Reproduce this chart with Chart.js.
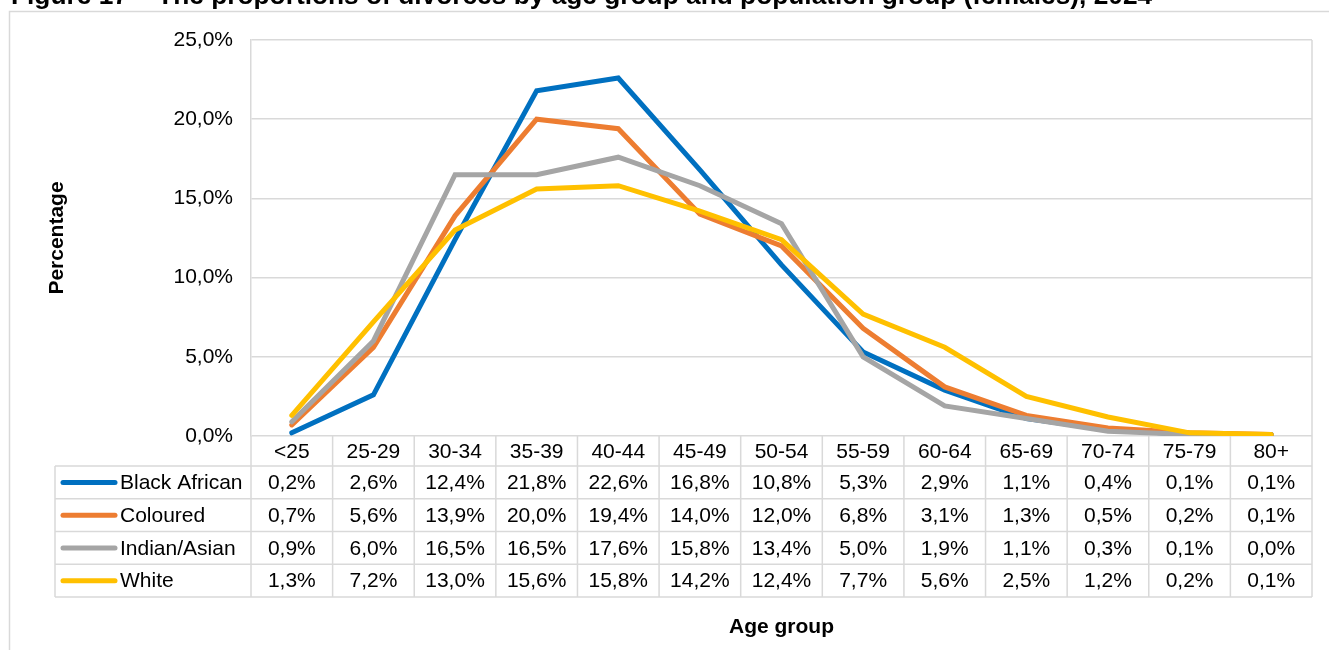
<!DOCTYPE html>
<html>
<head>
<meta charset="utf-8">
<script src="https://cdn.jsdelivr.net/npm/chart.js@4.4.1/dist/chart.umd.min.js"></script>
<style>
  html, body { margin: 0; padding: 0; background: #fff; overflow: hidden; }
  #wrap { position: relative; width: 1329px; height: 650px; }
</style>
</head>
<body>
<div id="wrap"><canvas id="c" width="1329" height="650"></canvas></div>
<script>
const titleText = "Figure 17    The proportions of divorces by age group and population group (females), 2024";
const categories = ["<25","25-29","30-34","35-39","40-44","45-49","50-54","55-59","60-64","65-69","70-74","75-79","80+"];
const seriesNames = ["Black African","Coloured","Indian/Asian","White"];
const blackAfrican = [0.2,2.6,12.4,21.8,22.6,16.8,10.8,5.3,2.9,1.1,0.4,0.1,0.1];
const coloured     = [0.7,5.6,13.9,20.0,19.4,14.0,12.0,6.8,3.1,1.3,0.5,0.2,0.1];
const indianAsian  = [0.9,6.0,16.5,16.5,17.6,15.8,13.4,5.0,1.9,1.1,0.3,0.1,0.0];
const white        = [1.3,7.2,13.0,15.6,15.8,14.2,12.4,7.7,5.6,2.5,1.2,0.2,0.1];
const seriesValues = [blackAfrican, coloured, indianAsian, white];
const seriesColors = ["#0070C0","#ED7D31","#A5A5A5","#FFC000"];
const yTitle = "Percentage";
const xTitle = "Age group";

const FONT = "'Liberation Sans', Arial, sans-serif";
const GRID = "#d9d9d9";
const fmt = v => v.toFixed(1).replace('.', ',') + '%';

const tablePlugin = {
  id: 'tablePlugin',
  beforeDraw(chart) {
    const ctx = chart.ctx;
    ctx.save();
    ctx.strokeStyle = GRID;
    ctx.lineWidth = 1.5;
    ctx.beginPath();
    ctx.moveTo(9.5, 650);
    ctx.lineTo(9.5, 11.5);
    ctx.lineTo(1329, 11.5);
    ctx.stroke();
    // title (partially cut at top)
    ctx.fillStyle = '#000';
    ctx.font = "bold 26.3px " + FONT;
    ctx.textAlign = 'left';
    ctx.textBaseline = 'alphabetic';
    ctx.fillText(titleText, 11, 4);
    ctx.restore();
  },
  afterDraw(chart) {
    const ctx = chart.ctx;
    const area = chart.chartArea;
    const x = chart.scales.x;
    const n = categories.length;
    const colW = (area.right - area.left) / n;
    const headerBottom = area.bottom + 30;
    const tableBottom = 597;
    const rowH = (tableBottom - headerBottom) / seriesNames.length;
    const legLeft = 55;
    ctx.save();
    ctx.strokeStyle = GRID;
    ctx.lineWidth = 1.5;
    ctx.beginPath();
    // right border of plot
    ctx.moveTo(area.right, area.top);
    ctx.lineTo(area.right, area.bottom);
    // column lines
    for (let k = 0; k <= n; k++) {
      const xx = area.left + k * colW;
      ctx.moveTo(xx, area.bottom);
      ctx.lineTo(xx, tableBottom);
    }
    // legend column left
    ctx.moveTo(legLeft, headerBottom);
    ctx.lineTo(legLeft, tableBottom);
    // row lines
    for (let r = 0; r <= seriesNames.length; r++) {
      const yy = headerBottom + r * rowH;
      ctx.moveTo(legLeft, yy);
      ctx.lineTo(area.right, yy);
    }
    ctx.stroke();

    ctx.fillStyle = '#000';
    ctx.font = "21px " + FONT;
    ctx.textAlign = 'center';
    ctx.textBaseline = 'middle';
    categories.forEach((c, i) => {
      ctx.fillText(c, x.getPixelForValue(i), (area.bottom + headerBottom) / 2 + 1);
    });
    seriesNames.forEach((name, r) => {
      const cy = headerBottom + r * rowH + rowH / 2;
      seriesValues[r].forEach((v, i) => {
        ctx.textAlign = 'center';
        ctx.fillText(fmt(v), x.getPixelForValue(i), cy + 1);
      });
      ctx.strokeStyle = seriesColors[r];
      ctx.lineWidth = 5;
      ctx.lineCap = 'round';
      ctx.beginPath();
      ctx.moveTo(63, cy);
      ctx.lineTo(115, cy);
      ctx.stroke();
      ctx.textAlign = 'left';
      ctx.fillText(name, 120, cy + 1);
    });

    // axis titles
    ctx.font = "bold 21px " + FONT;
    ctx.textAlign = 'center';
    ctx.textBaseline = 'alphabetic';
    ctx.fillText(xTitle, (area.left + area.right) / 2, 633);
    ctx.save();
    ctx.translate(57, (area.top + area.bottom) / 2);
    ctx.rotate(-Math.PI / 2);
    ctx.textBaseline = 'middle';
    ctx.fillText(yTitle, 0, 0);
    ctx.restore();
    ctx.restore();
  }
};

new Chart(document.getElementById('c'), {
  type: 'line',
  data: {
    labels: categories,
    datasets: seriesNames.map((name, i) => ({
      label: name,
      data: seriesValues[i],
      borderColor: seriesColors[i],
      backgroundColor: seriesColors[i],
      borderWidth: 5,
      pointRadius: 0,
      tension: 0,
      fill: false,
      borderCapStyle: 'round',
      borderJoinStyle: 'miter',
      order: seriesNames.length - 1 - i
    }))
  },
  options: {
    responsive: false,
    animation: false,
    events: [],
    layout: { padding: { left: 0, top: 40, right: 17, bottom: 214 } },
    plugins: { legend: { display: false }, tooltip: { enabled: false }, title: { display: false } },
    scales: {
      x: {
        type: 'category',
        offset: true,
        grid: { display: false },
        border: { display: false },
        ticks: { display: false },
        afterFit(s) { s.height = 0; }
      },
      y: {
        min: 0, max: 25,
        ticks: {
          stepSize: 5,
          padding: 18,
          color: '#000',
          font: { family: FONT, size: 21 },
          callback: v => fmt(v)
        },
        grid: { color: GRID, lineWidth: 1.5, drawTicks: false },
        border: { display: true, color: GRID, width: 1.5 },
        afterFit(s) { s.width = 251; }
      }
    }
  },
  plugins: [tablePlugin]
});
</script>
</body>
</html>
